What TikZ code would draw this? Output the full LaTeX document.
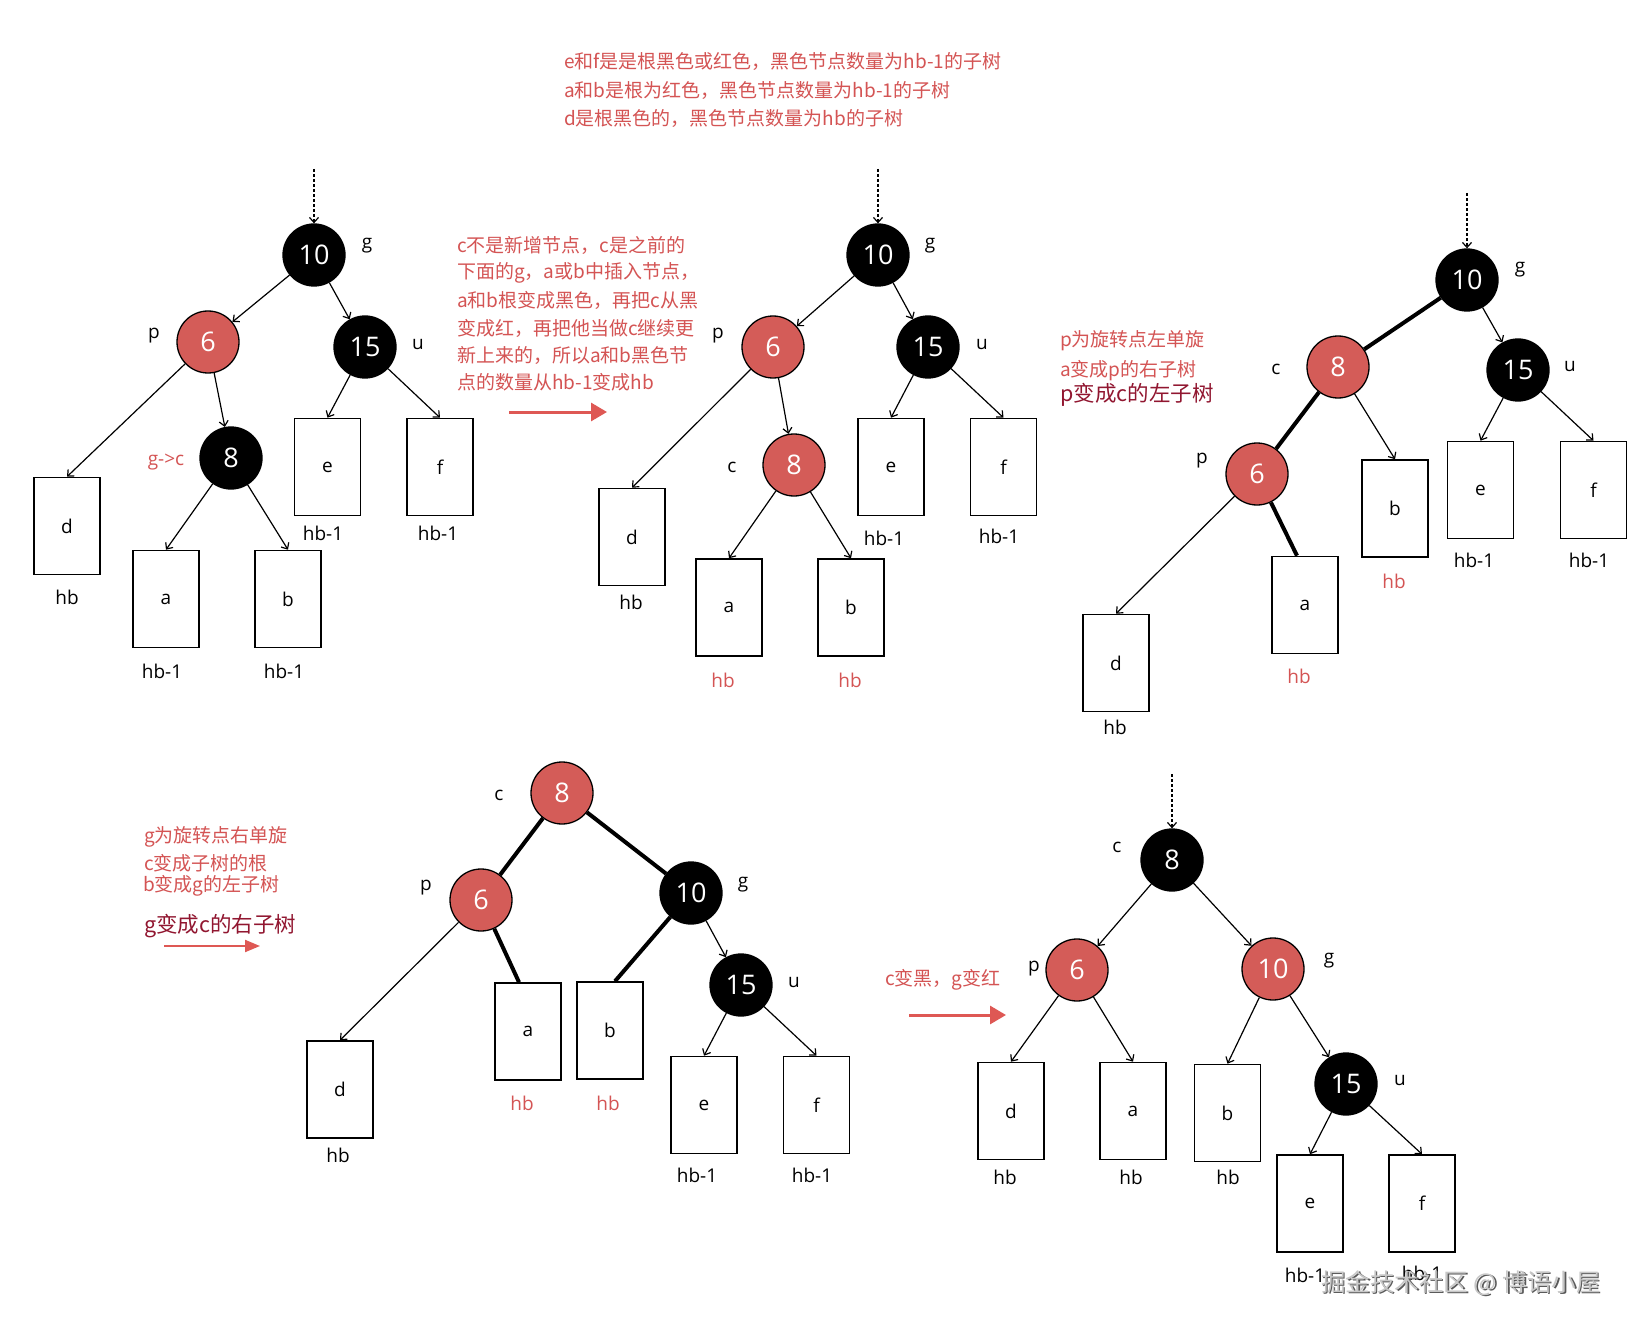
\documentclass[tikz,border=0pt]{standalone}
\usepackage{fontspec}
\setmainfont{Open Sans}
\newfontfamily\cjk{Noto Sans CJK SC}
\usetikzlibrary{arrows.meta}
\definecolor{nodered}{RGB}{212,92,88}
\definecolor{txtred}{RGB}{212,84,84}
\definecolor{darkred}{RGB}{145,22,48}
\definecolor{arrred}{RGB}{222,88,84}
\begin{document}
\begin{tikzpicture}[x=1pt,y=-1pt,
  rb/.style={circle,draw=black,line width=1.3pt,minimum size=62pt,inner sep=0pt,text=white,font=\fontsize{27}{27}\selectfont},
  bn/.style={rb,fill=black},
  rn/.style={rb,fill=nodered},
  leaf/.style={draw=black,line width=1.6pt,minimum width=66pt,minimum height=97pt,inner sep=0pt,font=\fontsize{19}{19}\selectfont},
  lbl/.style={font=\fontsize{19}{19}\selectfont,inner sep=0pt},
  rlbl/.style={lbl,text=txtred},
  arr/.style={line width=1.2pt,-{Straight Barb[length=5pt,width=9pt]}},
  thk/.style={line width=4pt},
  dsh/.style={line width=1.2pt,dash pattern=on 3pt off 2pt,-{Straight Barb[length=5pt,width=9pt]}},
  note/.style={anchor=west,inner sep=0pt,text=txtred,font=\cjk\fontsize{19}{19}\selectfont},
  bignote/.style={anchor=west,inner sep=0pt,text=darkred,font=\cjk\fontsize{21.5}{21.5}\selectfont},
  redarr/.style={draw=arrred,line width=3pt,-{Triangle[length=16pt,width=18pt]}},
]
\fill[white] (0,0) rectangle (1638,1329);
\path[use as bounding box] (0,0) rectangle (1638,1329);

% ---------- top notes
\node[note] (n1) at (564,62) {e和f是是根黑色或红色，黑色节点数量为hb-1的子树};
\node[note] (n2) at (564,91) {a和b是根为红色，黑色节点数量为hb-1的子树};
\node[note] (n3) at (564,119) {d是根黑色的，黑色节点数量为hb的子树};

% ---------- tree 1
\node[bn] (g1) at (314,255) {10};
\node[rn] (p1) at (208,342) {6};
\node[bn] (u1) at (365,347) {15};
\node[bn] (c1) at (231,458) {8};
\node[leaf] (d1) at (67,526) {d};
\node[leaf] (a1) at (166,599) {a};
\node[leaf] (b1) at (288,599) {b};
\node[leaf] (e1) at (327.5,467) {e};
\node[leaf] (f1) at (440,467) {f};
\coordinate (top1) at (314,169);
\draw[dsh] (top1) -- (g1);
\draw[arr] (g1) -- (p1);
\draw[arr] (g1) -- (u1);
\draw[arr] (p1) -- (d1.north);
\draw[arr] (p1) -- (c1);
\draw[arr] (c1) -- (a1.north);
\draw[arr] (c1) -- (b1.north);
\draw[arr] (u1) -- (e1.north);
\draw[arr] (u1) -- (f1.north);
\node[lbl] (lg1) at (367,246) {g};
\node[lbl] (lp1) at (154,336) {p};
\node[lbl] (lu1) at (418,345) {u};
\node[rlbl] (lc1) at (166,462) {g->c};
\node[lbl] (hd1) at (67,597) {hb};
\node[lbl] (ha1) at (162,671) {hb-1};
\node[lbl] (hb1) at (284,671) {hb-1};
\node[lbl] (he1) at (323,533) {hb-1};
\node[lbl] (hf1) at (438,533) {hb-1};

% ---------- middle notes + arrow 1
\node[note] (m1) at (457,245) {c不是新增节点，c是之前的};
\node[note] (m2) at (457,273) {下面的g，a或b中插入节点，};
\node[note] (m3) at (457,300) {a和b根变成黑色，再把c从黑};
\node[note] (m4) at (457,328) {变成红，再把他当做c继续更};
\node[note] (m5) at (457,355) {新上来的，所以a和b黑色节};
\node[note] (m6) at (457,382) {点的数量从hb-1变成hb};
\coordinate (ra1s) at (509,412);
\coordinate (ra1e) at (607,412);
\draw[redarr] (ra1s) -- (ra1e);

% ---------- tree 2
\node[bn] (g2) at (878,255) {10};
\node[rn] (p2) at (773,347) {6};
\node[bn] (u2) at (928,347) {15};
\node[rn] (c2) at (794,465) {8};
\node[leaf] (d2) at (632,537) {d};
\node[leaf] (a2) at (729,607.5) {a};
\node[leaf] (b2) at (851,607.5) {b};
\node[leaf] (e2) at (891,467) {e};
\node[leaf] (f2) at (1003.5,467) {f};
\coordinate (top2) at (878,169);
\draw[dsh] (top2) -- (g2);
\draw[arr] (g2) -- (p2);
\draw[arr] (g2) -- (u2);
\draw[arr] (p2) -- (d2.north);
\draw[arr] (p2) -- (c2);
\draw[arr] (c2) -- (a2.north);
\draw[arr] (c2) -- (b2.north);
\draw[arr] (u2) -- (e2.north);
\draw[arr] (u2) -- (f2.north);
\node[lbl] (lg2) at (930,246) {g};
\node[lbl] (lp2) at (718,336) {p};
\node[lbl] (lu2) at (982,345) {u};
\node[lbl] (lc2) at (732,467) {c};
\node[lbl] (hd2) at (631,602) {hb};
\node[rlbl] (ha2) at (723,680) {hb};
\node[rlbl] (hb2) at (850,680) {hb};
\node[lbl] (he2) at (884,538) {hb-1};
\node[lbl] (hf2) at (999,536) {hb-1};

% ---------- tree 3
\node[note] (q1) at (1060,341) {p为旋转点左单旋};
\node[note] (q2) at (1060,371) {a变成p的右子树};
\node[bignote] (q3) at (1060,395) {p变成c的左子树};
\node[bn] (g3) at (1467,280) {10};
\node[rn] (c3) at (1338,367) {8};
\node[bn] (u3) at (1518,370) {15};
\node[rn] (p3) at (1257,474) {6};
\node[leaf] (b3) at (1395,508.5) {b};
\node[leaf] (e3) at (1480.5,490) {e};
\node[leaf] (f3) at (1593.5,490) {f};
\node[leaf] (a3) at (1305,605) {a};
\node[leaf] (d3) at (1116,663) {d};
\coordinate (top3) at (1467,193);
\draw[dsh] (top3) -- (g3);
\draw[thk] (g3) -- (c3);
\draw[thk] (c3) -- (p3);
\draw[thk] (p3) -- ([xshift=-8pt]a3.north);
\draw[arr] (g3) -- (u3);
\draw[arr] (c3) -- (b3.north);
\draw[arr] (p3) -- (d3.north);
\draw[arr] (u3) -- (e3.north);
\draw[arr] (u3) -- (f3.north);
\node[lbl] (lg3) at (1520,270) {g};
\node[lbl] (lc3) at (1276,369) {c};
\node[lbl] (lu3) at (1570,367) {u};
\node[lbl] (lp3) at (1202,461) {p};
\node[rlbl] (hb3) at (1394,581) {hb};
\node[lbl] (he3) at (1474,560) {hb-1};
\node[lbl] (hf3) at (1589,560) {hb-1};
\node[rlbl] (ha3) at (1299,676) {hb};
\node[lbl] (hd3) at (1115,727) {hb};

% ---------- bottom-left notes + arrow 2
\node[note] (r1) at (144,837) {g为旋转点右单旋};
\node[note] (r2) at (144,863) {c变成子树的根};
\node[note] (r3) at (143,886) {b变成g的左子树};
\node[bignote] (r4) at (144,926) {g变成c的右子树};
\coordinate (ra2s) at (164,946);
\coordinate (ra2e) at (260,946);
\draw[draw=arrred,line width=2pt,-{Triangle[length=15pt,width=12pt]}] (ra2s) -- (ra2e);

% ---------- tree 4
\node[rn] (c4) at (562,793) {8};
\node[rn] (p4) at (481,900) {6};
\node[bn] (g4) at (691,893) {10};
\node[bn] (u4) at (741,985) {15};
\node[leaf] (d4) at (340,1089.5) {d};
\node[leaf] (a4) at (528,1031.5) {a};
\node[leaf] (b4) at (610,1030.5) {b};
\node[leaf] (e4) at (704,1105) {e};
\node[leaf] (f4) at (816.5,1105) {f};
\draw[thk] (c4) -- (p4);
\draw[thk] (c4) -- (g4);
\draw[thk] (p4) -- ([xshift=-9pt]a4.north);
\draw[thk] (g4) -- ([xshift=5pt]b4.north);
\draw[arr] (p4) -- (d4.north);
\draw[arr] (g4) -- (u4);
\draw[arr] (u4) -- (e4.north);
\draw[arr] (u4) -- (f4.north);
\node[lbl] (lc4) at (499,795) {c};
\node[lbl] (lp4) at (426,888) {p};
\node[lbl] (lg4) at (743,885) {g};
\node[lbl] (lu4) at (794,983) {u};
\node[lbl] (hd4) at (338,1155) {hb};
\node[rlbl] (ha4) at (522,1103) {hb};
\node[rlbl] (hb4) at (608,1103) {hb};
\node[lbl] (he4) at (697,1175) {hb-1};
\node[lbl] (hf4) at (812,1175) {hb-1};

% ---------- arrow 3
\node[note] (s1) at (885,980) {c变黑，g变红};
\coordinate (ra3s) at (909,1015);
\coordinate (ra3e) at (1006,1015);
\draw[redarr] (ra3s) -- (ra3e);

% ---------- tree 5
\node[bn] (c5) at (1172,860) {8};
\node[rn] (p5) at (1077,970) {6};
\node[rn] (g5) at (1273,969) {10};
\node[bn] (u5) at (1346,1084) {15};
\node[leaf] (d5) at (1011,1111) {d};
\node[leaf] (a5) at (1133,1111) {a};
\node[leaf] (b5) at (1227.5,1113) {b};
\node[leaf] (e5) at (1310,1203.5) {e};
\node[leaf] (f5) at (1422,1203.5) {f};
\coordinate (top5) at (1172,774);
\draw[dsh] (top5) -- (c5);
\draw[arr] (c5) -- (p5);
\draw[arr] (c5) -- (g5);
\draw[arr] (p5) -- (d5.north);
\draw[arr] (p5) -- (a5.north);
\draw[arr] (g5) -- (b5.north);
\draw[arr] (g5) -- (u5);
\draw[arr] (u5) -- (e5.north);
\draw[arr] (u5) -- (f5.north);
\node[lbl] (lc5) at (1117,847) {c};
\node[lbl] (lp5) at (1034,969) {p};
\node[lbl] (lg5) at (1329,961) {g};
\node[lbl] (lu5) at (1400,1080) {u};
\node[lbl] (hd5) at (1005,1177) {hb};
\node[lbl] (ha5) at (1131,1177) {hb};
\node[lbl] (hb5) at (1228,1177) {hb};
\node[lbl] (he5) at (1305,1275) {hb-1};
\node[lbl] (hf5) at (1422,1273) {hb-1};

% ---------- watermark
\node[inner sep=0pt,text=black!65,font=\cjk\fontsize{24.5}{24.5}\selectfont] (wm0) at (1462.5,1284.5) {掘金技术社区 @ 博语小屋};
\node[inner sep=0pt,text=black!22,font=\cjk\fontsize{24.5}{24.5}\selectfont] (wm) at (1461,1283) {掘金技术社区 @ 博语小屋};
\end{tikzpicture}
\end{document}
